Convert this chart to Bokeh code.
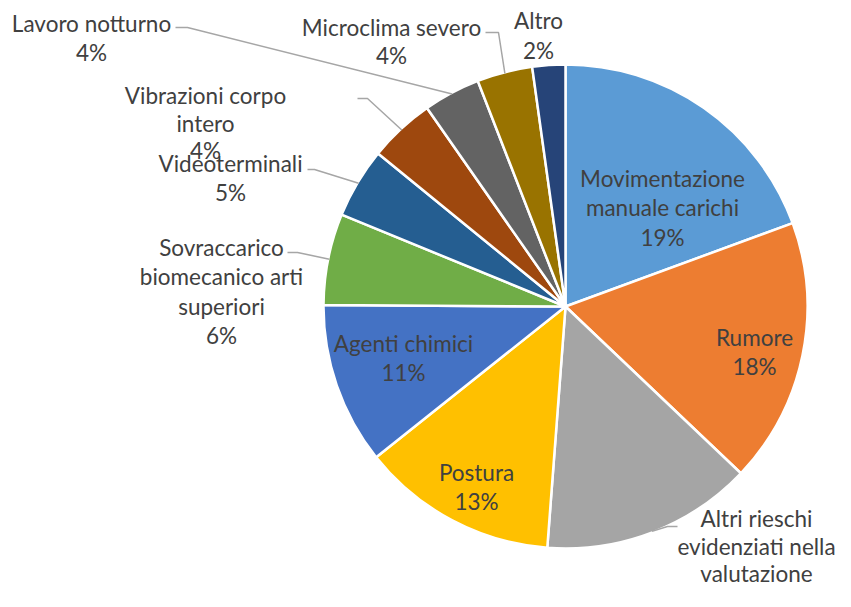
import math
from bokeh.plotting import figure
from bokeh.models import Range1d, ColumnDataSource
from bokeh.embed import file_html
from bokeh.resources import INLINE
from bokeh.core.properties import value

# ---------------- data ----------------
categories = [
    "Movimentazione manuale carichi",
    "Rumore",
    "Altri rieschi evidenziati nella valutazione",
    "Postura",
    "Agenti chimici",
    "Sovraccarico biomecanico arti superiori",
    "Videoterminali",
    "Vibrazioni corpo intero",
    "Lavoro notturno",
    "Microclima severo",
    "Altro",
]
shares = [19.4, 17.7, 14.1, 13.1, 10.8, 6.1, 4.7, 4.4, 3.8, 3.7, 2.2]
pct_labels = ["19%", "18%", "14%", "13%", "11%", "6%", "5%", "4%", "4%", "4%", "2%"]
label_lines = [
    ["Movimentazione", "manuale carichi"],
    ["Rumore"],
    ["Altri rieschi", "evidenziati nella", "valutazione"],
    ["Postura"],
    ["Agenti chimici"],
    ["Sovraccarico", "biomecanico arti", "superiori"],
    ["Videoterminali"],
    ["Vibrazioni corpo", "intero"],
    ["Lavoro notturno"],
    ["Microclima severo"],
    ["Altro"],
]
colors = ["#5B9BD5", "#ED7D31", "#A5A5A5", "#FFC000", "#4472C4", "#70AD47",
          "#255E91", "#9E480E", "#636363", "#997300", "#264478"]

# ---------------- layout (pixel positions in the picture) ----------------
W, H = 835, 591
CX, CY, R = 565, 306, 242          # pie centre / radius (pixels)
LINE_GAP = 29.3
FONT = "Lato"
FONT_SIZE = "22.5px"
TEXT_COLOR = "#404040"

# centre x, first line y and line gap of each label block (pixels)
label_pos = [
    (662, 178, LINE_GAP), (754, 337, LINE_GAP), (756, 518, 27.5), (476, 472, LINE_GAP),
    (403, 343, LINE_GAP), (221, 247, LINE_GAP), (230, 163, LINE_GAP), (205, 95, 27.5),
    (91, 23, LINE_GAP), (391, 27, 28), (538, 20, 30),
]
show_pct = [True, True, False, True, True, True, True, True, True, True, True]
# leader lines: label end and elbow (pixels); the pie end comes from the data
leaders = {
    2: [(677, 526), (667, 526)],
    5: [(287, 252), (297, 252)],
    6: [(307, 169), (314, 169)],
    7: [(357, 98), (367, 98)],
    8: [(175, 27), (187, 27)],
    9: [(485, 32), (498, 32)],
}


def fy(y):
    return H - y


total = sum(shares)
starts, ends, mids = [], [], []
cum = 0.0
for s in shares:
    a0 = math.pi / 2 - 2 * math.pi * cum / total
    cum += s
    a1 = math.pi / 2 - 2 * math.pi * cum / total
    starts.append(a0)
    ends.append(a1)
    mids.append((a0 + a1) / 2)

p = figure(width=W, height=H, x_range=Range1d(0, W), y_range=Range1d(0, H),
           output_backend="svg", toolbar_location=None, min_border=0,
           x_axis_type=None, y_axis_type=None, outline_line_color=None,
           background_fill_color="white", border_fill_color="white")
p.grid.visible = False

src = ColumnDataSource(dict(cat=categories, start=starts, end=ends, color=colors))
p.wedge(x=CX, y=fy(CY), radius=R, start_angle="start", end_angle="end", direction="clock",
        fill_color="color", line_color="white", line_width=2.5, source=src)

# leader lines
lx, ly = [], []
for i, pts in leaders.items():
    ex = CX + R * 0.995 * math.cos(mids[i])
    ey = fy(CY) + R * 0.995 * math.sin(mids[i])
    lx.append([pts[0][0], pts[1][0], ex])
    ly.append([fy(pts[0][1]), fy(pts[1][1]), ey])
p.multi_line(lx, ly, line_color="#A6A6A6", line_width=1.5)

# labels
tx, ty, tt = [], [], []
for i, lines in enumerate(label_lines):
    cx, y0, gap = label_pos[i]
    allines = list(lines) + ([pct_labels[i]] if show_pct[i] else [])
    for k, t in enumerate(allines):
        tx.append(cx)
        ty.append(fy(y0 + k * gap))
        tt.append(t)
p.text(x=tx, y=ty, text=tt, text_align="center", text_baseline="middle",
       text_font=value(FONT), text_font_size=FONT_SIZE, text_color=TEXT_COLOR)

open("out.html", "w").write(file_html(p, INLINE))
